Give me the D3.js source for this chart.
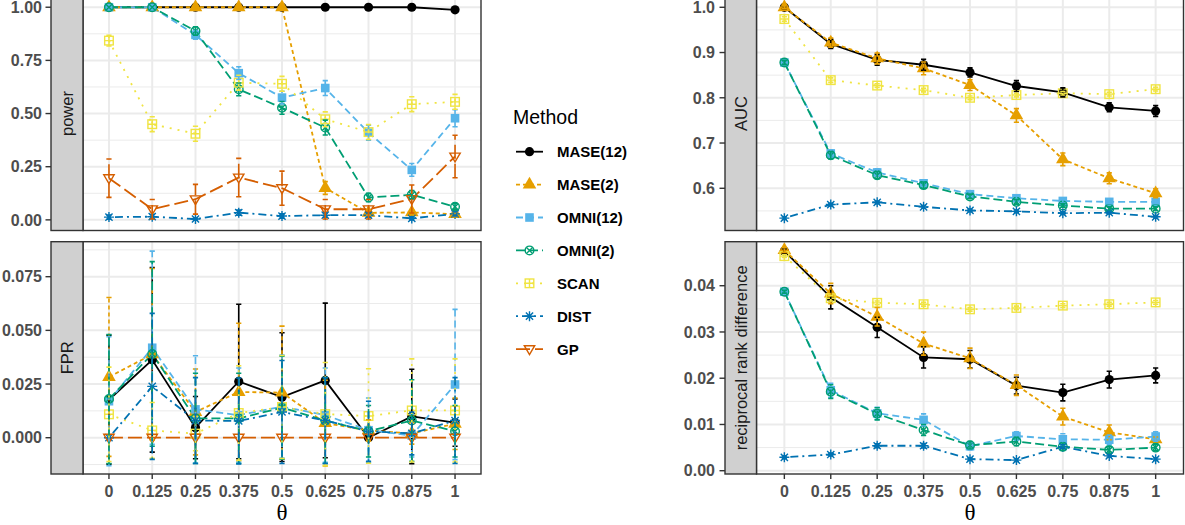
<!DOCTYPE html>
<html><head><meta charset="utf-8">
<script src="https://cdn.jsdelivr.net/npm/d3@7"></script>
<style>body{margin:0;background:#fff}svg{display:block}</style>
</head><body>
<svg id="chart" width="1185" height="525"></svg>
<script>
// ---------------- data ----------------
const methods = ["MASE(12)","MASE(2)","OMNI(12)","OMNI(2)","SCAN","DIST","GP"];
const colors  = ["#000000","#E69F00","#56B4E9","#009E73","#F0E442","#0072B2","#D55E00"];
const thetaLabels = ["0","0.125","0.25","0.375","0.5","0.625","0.75","0.875","1"];

const powerTicks = [0,0.25,0.5,0.75,1];
const fprTicks = [0,0.025,0.05,0.075];
const aucTicks = [0.6,0.7,0.8,0.9,1.0];
const rrdTicks = [0,0.01,0.02,0.03,0.04];

// one row per method (order as in methods)
const powerMean = [
  [1,1,1,1,1,1,1,1,0.988],
  [1,1,1,1,1,0.15,0.033,0.035,0.027],
  [1,1,0.87,0.69,0.575,0.62,0.41,0.235,0.478],
  [1,1,0.888,0.614,0.527,0.434,0.105,0.118,0.062],
  [0.843,0.45,0.405,0.645,0.64,0.473,0.413,0.544,0.555],
  [0.013,0.015,0.004,0.034,0.018,0.022,0.022,0.007,0.028],
  [0.196,0.05,0.097,0.199,0.149,0.05,0.05,0.098,0.298]
];
const powerErr = [
  [0,0,0,0,0,0,0,0,0.01],
  [0,0,0,0,0,0.03,0.012,0.012,0.012],
  [0,0,0.02,0.03,0.03,0.035,0.035,0.03,0.04],
  [0,0,0.02,0.03,0.03,0.035,0.02,0.02,0.015],
  [0.025,0.035,0.035,0.035,0.035,0.035,0.035,0.035,0.035],
  [0.01,0.01,0.005,0.012,0.01,0.01,0.01,0.007,0.01],
  [0.09,0.046,0.07,0.09,0.08,0.046,0.046,0.066,0.1]
];
const fprMean = [
  [0.0177,0.0363,0.0047,0.0262,0.0189,0.0267,0.0,0.0099,0.007],
  [0.0283,0.0388,0.012,0.0213,0.021,0.0068,0.0034,0.002,0.0065],
  [0.017,0.0419,0.0132,0.0105,0.0145,0.0105,0.0035,0.001,0.0248],
  [0.018,0.039,0.009,0.009,0.014,0.008,0.003,0.008,0.003],
  [0.0109,0.0034,0.0019,0.0115,0.0143,0.011,0.0101,0.0127,0.0127],
  [0,0.0239,0.008,0.0078,0.012,0.008,0.003,0.002,0.008],
  [0,0,0,0,0,0,0,0,0]
];
const fprErr = [
  [0.030,0.043,0.0145,0.036,0.030,0.036,0,0.022,0.011],
  [0.037,0.040,0.020,0.032,0.031,0.020,0.005,0.005,0.012],
  [0.030,0.045,0.025,0.022,0.024,0.022,0.015,0.010,0.035],
  [0.030,0.043,0.021,0.021,0.024,0.020,0.012,0.019,0.012],
  [0.022,0.013,0.008,0.022,0.024,0.024,0.022,0.024,0.024],
  [0,0.034,0.020,0.020,0.024,0.020,0.014,0.010,0.020],
  [0,0,0,0,0,0,0,0,0]
];
const aucMean = [
  [1.0,0.919,0.884,0.873,0.856,0.826,0.812,0.779,0.771],
  [1.0,0.922,0.887,0.865,0.828,0.761,0.664,0.622,0.589],
  [0.878,0.677,0.635,0.611,0.587,0.578,0.572,0.570,0.570],
  [0.878,0.673,0.629,0.607,0.582,0.570,0.562,0.555,0.555],
  [0.974,0.839,0.827,0.817,0.800,0.806,0.810,0.808,0.819],
  [0.534,0.564,0.569,0.559,0.551,0.549,0.545,0.546,0.537],
  null
];
const aucErr = [
  [0.003,0.01,0.012,0.012,0.01,0.012,0.01,0.01,0.012],
  [0.003,0.01,0.012,0.014,0.012,0.015,0.014,0.012,0.01],
  [0.005,0.008,0.008,0.007,0.005,0.005,0.004,0.004,0.004],
  [0.005,0.008,0.008,0.007,0.005,0.005,0.004,0.004,0.004],
  [0.005,0.005,0.004,0.004,0.004,0.004,0.004,0.004,0.004],
  [0.003,0.003,0.003,0.003,0.003,0.003,0.003,0.003,0.003],
  null
];
const rrdMean = [
  [0.0475,0.0375,0.031,0.0245,0.0241,0.0184,0.0169,0.0197,0.0206],
  [0.0477,0.0383,0.0333,0.0275,0.0243,0.0185,0.0117,0.0083,0.0068],
  [0.0387,0.0174,0.0124,0.011,0.0053,0.0075,0.0068,0.0067,0.0074],
  [0.0387,0.0171,0.0123,0.0088,0.0055,0.0063,0.0052,0.0045,0.005],
  [0.0464,0.0373,0.0363,0.036,0.0349,0.0352,0.0357,0.036,0.0364],
  [0.0029,0.0035,0.0054,0.0054,0.0025,0.0023,0.0052,0.0032,0.0025],
  null
];
const rrdErr = [
  [0.0005,0.0025,0.0022,0.0023,0.0019,0.0018,0.0018,0.0018,0.0016],
  [0.0005,0.0022,0.002,0.0025,0.0022,0.0022,0.0018,0.0016,0.0005],
  [0.0003,0.0015,0.0013,0.0013,0.0008,0.0009,0.0012,0.001,0.001],
  [0.0003,0.0015,0.0013,0.0012,0.0008,0.0009,0.0008,0.0007,0.0007],
  [0.0003,0.0006,0.0004,0.0004,0.0004,0.0004,0.0004,0.0004,0.0004],
  [0.0003,0.0003,0.0004,0.0005,0.0003,0.0003,0.0004,0.0003,0.0003],
  null
];

// ---------------- styles ----------------
const dashes = [null,"4,3","7,4","9,4","2,6","2,4,8,4","14,5"];
const FONT = "'Liberation Sans', Arial, Helvetica, sans-serif";

const svg = d3.select("#chart");
const defs = svg.append("defs");

const panels = [
  {id:"power", mean:powerMean, err:powerErr, x:[83,481], y:[230.5,-3.4], dom:[-0.05,1.05],
   ticks:powerTicks, fmt:d3.format(".2f"), strip:[51,83], labelRight:42, tick:[45.5,51], xaxis:false},
  {id:"FPR", mean:fprMean, err:fprErr, x:[83,481], y:[474,241.7], dom:[-0.0169,0.0913],
   ticks:fprTicks, fmt:d3.format(".3f"), strip:[51,83], labelRight:42, tick:[45.5,51], xaxis:true},
  {id:"AUC", mean:aucMean, err:aucErr, x:[756.5,1183.5], y:[230.5,-3.4], dom:[0.5067,1.0236],
   ticks:aucTicks, fmt:d3.format(".1f"), strip:[725,756.5], labelRight:715, tick:[719.5,725], xaxis:false},
  {id:"reciprocal rank difference", mean:rrdMean, err:rrdErr, x:[756.5,1183.5], y:[474,241.7], dom:[-0.00071,0.04952],
   ticks:rrdTicks, fmt:d3.format(".2f"), strip:[725,756.5], labelRight:715, tick:[719.5,725], xaxis:true}
];

function drawShape(g, i, x, y, c) {
  const sw = 1.4;
  if (i === 0) {
    g.append("circle").attr("cx",x).attr("cy",y).attr("r",4.6).attr("fill",c);
  } else if (i === 1) {
    g.append("path").attr("d", d3.symbol(d3.symbolTriangle, 80)())
      .attr("transform",`translate(${x},${y})`).attr("fill",c);
  } else if (i === 2) {
    g.append("rect").attr("x",x-4.3).attr("y",y-4.3).attr("width",8.6).attr("height",8.6).attr("fill",c);
  } else if (i === 3) {
    g.append("circle").attr("cx",x).attr("cy",y).attr("r",4.3).attr("fill","none").attr("stroke",c).attr("stroke-width",sw);
    const a = 3.0;
    g.append("path").attr("d",`M${x-a},${y-a}L${x+a},${y+a}M${x-a},${y+a}L${x+a},${y-a}`)
      .attr("stroke",c).attr("stroke-width",sw).attr("fill","none");
  } else if (i === 4) {
    g.append("rect").attr("x",x-4.3).attr("y",y-4.3).attr("width",8.6).attr("height",8.6)
      .attr("fill","none").attr("stroke",c).attr("stroke-width",sw);
    g.append("path").attr("d",`M${x-4.3},${y}L${x+4.3},${y}M${x},${y-4.3}L${x},${y+4.3}`)
      .attr("stroke",c).attr("stroke-width",sw);
  } else if (i === 5) {
    const a = 5, b = 3.6;
    g.append("path").attr("d",`M${x-a},${y}L${x+a},${y}M${x},${y-a}L${x},${y+a}M${x-b},${y-b}L${x+b},${y+b}M${x-b},${y+b}L${x+b},${y-b}`)
      .attr("stroke",c).attr("stroke-width",sw);
  } else if (i === 6) {
    g.append("path").attr("d",`M${x-5.2},${y-3.4}L${x+5.2},${y-3.4}L${x},${y+5.4}Z`)
      .attr("fill","none").attr("stroke",c).attr("stroke-width",sw);
  }
}

panels.forEach((p, pi) => {
  const xs = d3.scalePoint().domain(thetaLabels).range(p.x).padding(0.6);
  const ys = d3.scaleLinear().domain(p.dom).range(p.y);
  const top = Math.min(...p.y), bot = Math.max(...p.y);
  const g = svg.append("g");

  // background
  g.append("rect").attr("x",p.x[0]).attr("y",top).attr("width",p.x[1]-p.x[0]).attr("height",bot-top).attr("fill","#fff");

  // minor grid
  const tstep = p.ticks[1]-p.ticks[0];
  const minors = [];
  for (let v = p.ticks[0]-tstep/2; v <= p.dom[1]; v += tstep) if (v >= p.dom[0]) minors.push(v);
  g.selectAll(null).data(minors).join("line")
    .attr("x1",p.x[0]).attr("x2",p.x[1]).attr("y1",d=>ys(d)).attr("y2",d=>ys(d))
    .attr("stroke","#ebebeb").attr("stroke-width",1);
  // major grid
  g.selectAll(null).data(p.ticks).join("line")
    .attr("x1",p.x[0]).attr("x2",p.x[1]).attr("y1",d=>ys(d)).attr("y2",d=>ys(d))
    .attr("stroke","#ebebeb").attr("stroke-width",2);
  g.selectAll(null).data(thetaLabels).join("line")
    .attr("x1",d=>xs(d)).attr("x2",d=>xs(d)).attr("y1",top).attr("y2",bot)
    .attr("stroke","#ebebeb").attr("stroke-width",2);

  // clip
  const cid = "clip"+pi;
  defs.append("clipPath").attr("id",cid).append("rect")
    .attr("x",p.x[0]).attr("y",top).attr("width",p.x[1]-p.x[0]).attr("height",bot-top);
  const data = svg.append("g").attr("clip-path",`url(#${cid})`);

  const line = d3.line().x((d,i)=>xs(thetaLabels[i])).y(d=>ys(d));
  // lines
  methods.forEach((m, mi) => {
    const vals = p.mean[mi];
    if (!vals) return;
    data.append("path").attr("d", line(vals)).attr("fill","none")
      .attr("stroke",colors[mi]).attr("stroke-width",1.8)
      .attr("stroke-dasharray",dashes[mi]);
  });
  // points
  methods.forEach((m, mi) => {
    const vals = p.mean[mi];
    if (!vals) return;
    vals.forEach((v,i) => drawShape(data, mi, xs(thetaLabels[i]), ys(v), colors[mi]));
  });
  // error bars
  methods.forEach((m, mi) => {
    const vals = p.mean[mi];
    if (!vals) return;
    vals.forEach((v,i) => {
      const e = p.err[mi][i];
      if (!e) return;
      const x = xs(thetaLabels[i]), y1 = ys(v-e), y2 = ys(v+e);
      data.append("line").attr("x1",x).attr("x2",x).attr("y1",y1).attr("y2",y2)
        .attr("stroke",colors[mi]).attr("stroke-width",1.6).attr("stroke-dasharray",dashes[mi]);
      data.append("path").attr("d",`M${x-2.6},${y1}L${x+2.6},${y1}M${x-2.6},${y2}L${x+2.6},${y2}`)
        .attr("stroke",colors[mi]).attr("stroke-width",1.6);
    });
  });

  // panel border
  svg.append("rect").attr("x",p.x[0]).attr("y",top).attr("width",p.x[1]-p.x[0]).attr("height",bot-top)
    .attr("fill","none").attr("stroke","#333333").attr("stroke-width",1.4);

  // strip
  svg.append("rect").attr("x",p.strip[0]).attr("y",top).attr("width",p.strip[1]-p.strip[0]).attr("height",bot-top)
    .attr("fill","#d0d0d0").attr("stroke","#333333").attr("stroke-width",1.4);
  const cx = (p.strip[0]+p.strip[1])/2, cy = (Math.max(top,0)*0+ (top+bot)/2);
  svg.append("text").attr("transform",`translate(${cx+6},${(top+bot)/2}) rotate(-90)`)
    .attr("text-anchor","middle").attr("font-family",FONT).attr("font-size",16.5)
    .attr("fill","#1a1a1a").text(p.id);

  // y axis ticks & labels
  const ya = svg.append("g");
  ya.selectAll(null).data(p.ticks).join("line")
    .attr("x1",p.tick[0]).attr("x2",p.tick[1]).attr("y1",d=>ys(d)).attr("y2",d=>ys(d))
    .attr("stroke","#333333").attr("stroke-width",1.4);
  ya.selectAll(null).data(p.ticks).join("text")
    .attr("x",p.labelRight).attr("y",d=>ys(d)).attr("dy","0.36em")
    .attr("text-anchor","end").attr("font-family",FONT).attr("font-weight","bold")
    .attr("font-size",16).attr("fill","#4d4d4d").text(d=>p.fmt(d));

  // x axis
  if (p.xaxis) {
    const xa = svg.append("g");
    xa.selectAll(null).data(thetaLabels).join("line")
      .attr("x1",d=>xs(d)).attr("x2",d=>xs(d)).attr("y1",bot).attr("y2",bot+5)
      .attr("stroke","#333333").attr("stroke-width",1.4);
    xa.selectAll(null).data(thetaLabels).join("text")
      .attr("x",d=>xs(d)).attr("y",bot+17.5).attr("dy","0.36em")
      .attr("text-anchor","middle").attr("font-family",FONT).attr("font-weight","bold")
      .attr("font-size",16).attr("fill","#4d4d4d").text(d=>d);
    svg.append("text").attr("x",(p.x[0]+p.x[1])/2).attr("y",520)
      .attr("text-anchor","middle").attr("font-family","'Liberation Serif','DejaVu Serif',serif")
      .attr("font-size",23).attr("fill","#000").text("θ");
  }
});

// ---------------- legend ----------------
const lg = svg.append("g");
lg.append("text").attr("x",513).attr("y",124).attr("font-family",FONT).attr("font-size",19.5)
  .attr("fill","#000").text("Method");
methods.forEach((m, mi) => {
  const y = 151.7 + mi*32.9;
  lg.append("line").attr("x1",516).attr("x2",543).attr("y1",y).attr("y2",y)
    .attr("stroke",colors[mi]).attr("stroke-width",1.8).attr("stroke-dasharray",dashes[mi]);
  drawShape(lg, mi, 529.5, y, colors[mi]);
  lg.append("text").attr("x",557).attr("y",y).attr("dy","0.36em").attr("font-family",FONT)
    .attr("font-weight","bold").attr("font-size",15).attr("fill","#000").text(m);
});
</script>
</body></html>
